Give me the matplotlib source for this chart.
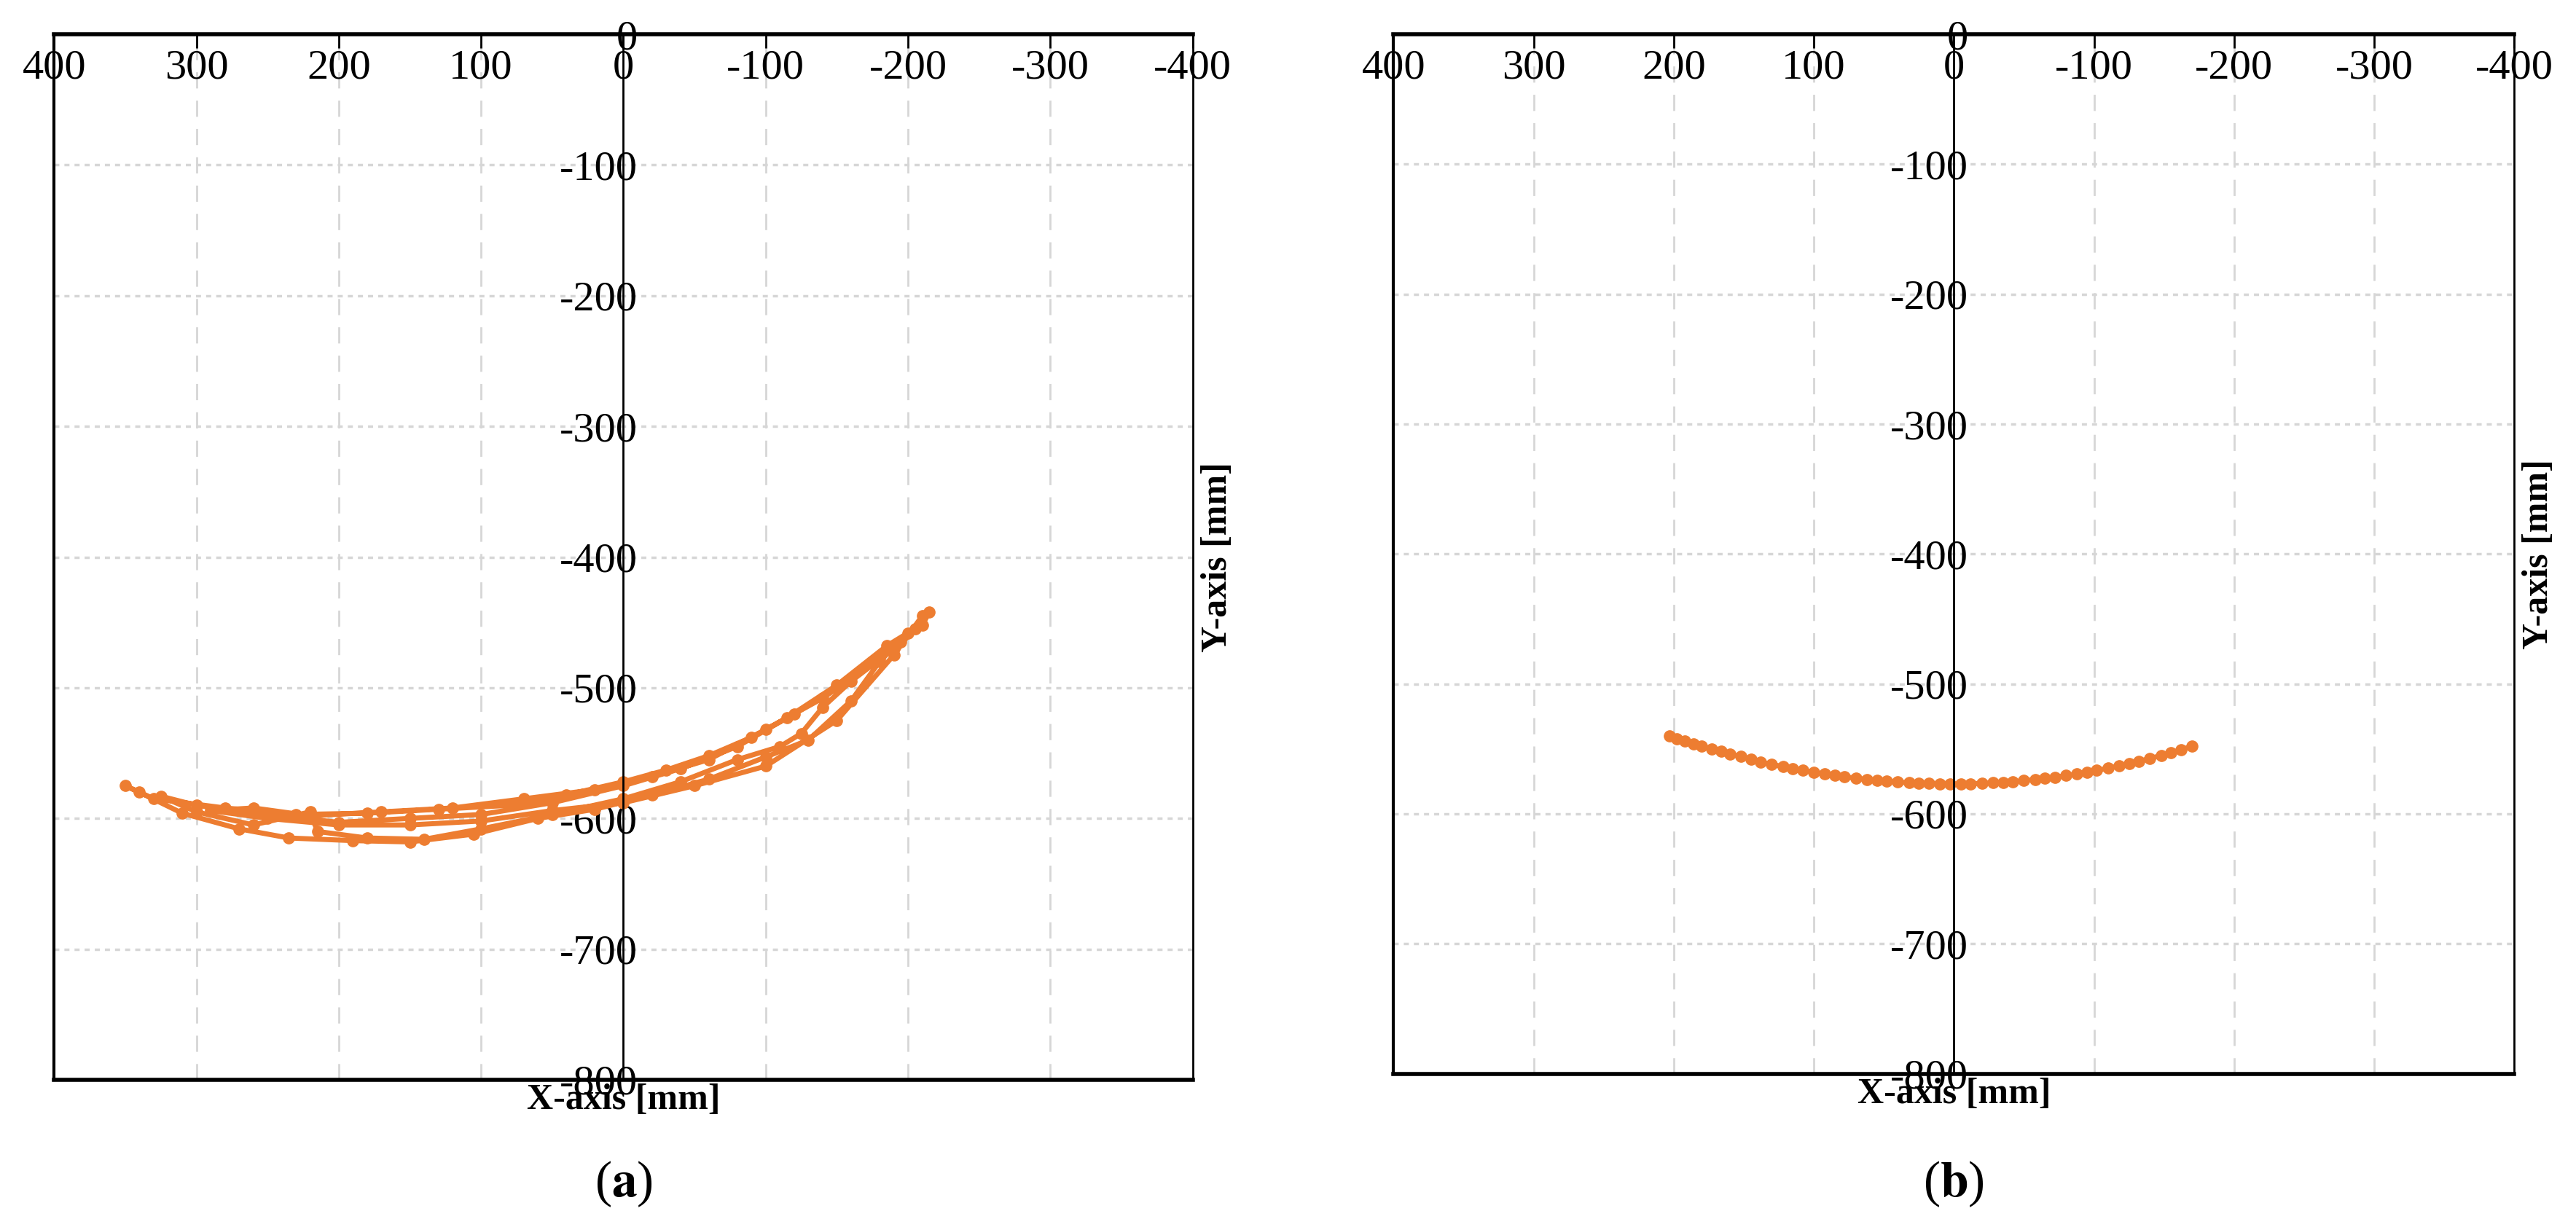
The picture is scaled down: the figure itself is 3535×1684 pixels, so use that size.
import numpy as np
import matplotlib.pyplot as plt

plt.rcParams['font.family'] = ['Liberation Serif', 'DejaVu Serif']
plt.rcParams['mathtext.fontset'] = 'stix'
plt.rcParams['axes.unicode_minus'] = False

# panel (a): several loops of the trajectory
xa = [-215, -210, -195, -175, -150, -120, -90, -60, -30, 0, 40, 80, 130, 180, 230, 280, 330, 350,
      340, 310, 270, 235, 190, 150, 105, 60, 20, -20, -60, -100, -130, -160, -180, -200,
      -185, -150, -115, -80, -40, 0, 50, 100, 150, 200, 250, 300, 325,
      300, 260, 220, 215, 180, 140, 100, 50, 0, -40, -80, -110, -125, -140, -160, -190, -205,
      -180, -140, -100, -60, -20, 20, 70, 120, 170, 220, 260, 290,
      250, 200, 150, 100, 50, 0, -50, -100, -150, -190, -210]
ya = [-442, -452, -465, -480, -500, -520, -538, -552, -563, -572, -582, -590, -593, -596, -597, -592, -585, -575,
      -580, -596, -608, -615, -617, -618, -612, -600, -593, -582, -570, -553, -540, -510, -480, -458,
      -468, -498, -523, -545, -562, -575, -588, -597, -600, -603, -597, -590, -583,
      -595, -605, -595, -610, -615, -616, -608, -597, -585, -572, -555, -545, -535, -515, -495, -470, -455,
      -478, -508, -532, -555, -568, -578, -585, -592, -595, -598, -592, -594,
      -600, -605, -605, -602, -594, -588, -575, -560, -525, -475, -445]

# panel (b): single smooth arc
xb = [203, 198, 192, 186, 180, 173, 166, 160, 152, 145, 138, 130, 122, 115, 108, 100, 92, 85, 78, 70,
      62, 55, 48, 40, 32, 25, 18, 10, 3, -5, -12, -20, -28, -35, -42, -50, -58, -65, -72, -80,
      -88, -95, -102, -110, -118, -125, -132, -140, -148, -155, -162, -170]
yb = [-540, -542, -544, -546, -548, -550, -552, -554, -556, -558, -560, -562, -563.6, -565, -566.5, -568,
      -569.4, -570.5, -571.5, -572.6, -573.5, -574.3, -575, -575.6, -576, -576.4, -576.7, -577, -577,
      -577, -576.9, -576.6, -576.2, -575.8, -575.2, -574.5, -573.6, -572.8, -571.8, -570.6, -569.3,
      -568, -566.6, -564.9, -563.1, -561.4, -559.6, -557.4, -555.1, -553, -550.8, -548]

xticks = [400, 300, 200, 100, 0, -100, -200, -300, -400]
yticks = [0, -100, -200, -300, -400, -500, -600, -700, -800]
orange = '#ed7d31'

fig = plt.figure(figsize=(35.35, 16.84), dpi=100)
boxes = [[0.021, 0.12, 0.442, 0.852], [0.541, 0.125, 0.435, 0.847]]
data = [(xa, ya), (xb, yb)]
for i, (box, (x, y)) in enumerate(zip(boxes, data)):
    ax = fig.add_axes(box)
    ax.plot(x, y, '-o', color=orange, lw=5, ms=11)
    ax.set_xlim(400, -400)
    ax.set_ylim(-800, 0)
    ax.set_xticks(xticks)
    ax.set_yticks(yticks)
    ax.xaxis.tick_top()
    ax.tick_params(axis='x', direction='in', length=14, width=2, pad=-52, labelsize=42)
    ax.tick_params(axis='y', length=0, pad=-14, labelsize=42)
    for lbl in ax.get_yticklabels():
        lbl.set_ha('left')
    ax.spines['left'].set_position(('data', 0))
    ax.axvline(400, color='black', lw=3, clip_on=False)
    for xv in xticks[1:-1]:
        if xv != 0:
            ax.axvline(xv, color='#d6d6d6', lw=2, ls=(0, (8, 6)), zorder=0)
    for yv in yticks[1:-1]:
        ax.axhline(yv, color='#d6d6d6', lw=2.5, ls=(0, (2, 2)), zorder=0)
    ax.spines['top'].set_linewidth(4)
    ax.spines['bottom'].set_linewidth(4)
    ax.spines['left'].set_linewidth(2)
    ax.spines['right'].set_linewidth(2)
    ax.xaxis.set_label_position('bottom')
    ax.set_xlabel('X-axis [mm]', fontsize=36, fontweight='bold', labelpad=4)
    ax.yaxis.set_label_position('right')
    ax.set_ylabel('Y-axis [mm]', fontsize=36, fontweight='bold', labelpad=8)
    fig.text(box[0] + box[2] / 2, 0.035, '(' + r'$\mathbf{' + 'ab'[i] + '}$' + ')',
             ha='center', va='center', fontsize=50)

fig.savefig('out.png')
